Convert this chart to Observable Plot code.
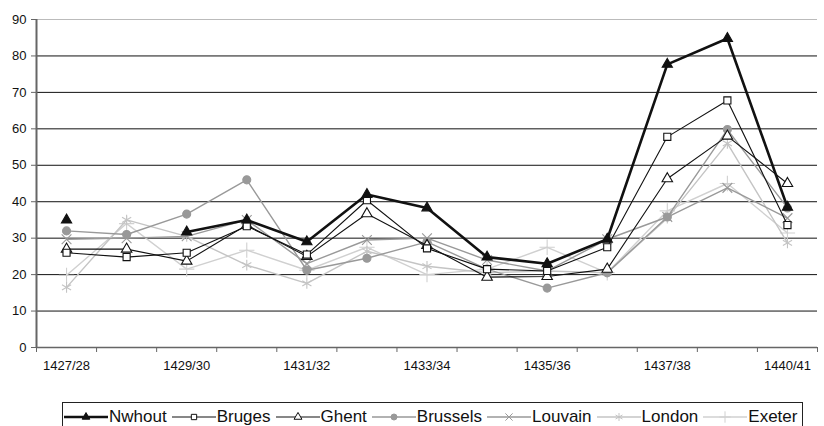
<!DOCTYPE html>
<html><head><meta charset="utf-8">
<script src="https://cdn.jsdelivr.net/npm/d3@7"></script>
<script src="https://cdn.jsdelivr.net/npm/@observablehq/plot@0.6"></script>
<style>
body{margin:0;background:#fff;font-family:Arial,"Liberation Sans",sans-serif;}
#chart{position:absolute;left:0;top:0;}
#legend{position:absolute;left:62px;top:402px;width:741px;height:30px;border:1px solid #222;display:flex;align-items:center;box-sizing:border-box;font-size:17px;color:#111;padding-left:1px;}
.item{display:flex;align-items:center;margin-right:5px;white-space:nowrap}
.item svg{display:block;margin-right:1px}
</style></head><body>
<div id="chart"></div><div id="legend"></div>
<script>
const categories = ["1427/28","1428/29","1429/30","1430/31","1431/32","1432/33","1433/34","1434/35","1435/36","1436/37","1437/38","1438/39","1440/41"];
const tickLabels = ["1427/28","1429/30","1431/32","1433/34","1435/36","1437/38","1440/41"];
const yTicks = [0,10,20,30,40,50,60,70,80,90];
const seriesNames = ["Nwhout","Bruges","Ghent","Brussels","Louvain","London","Exeter"];
const nwhout   = [35, null, 31.7, 35, 29, 42, 38.3, 24.8, 23, 29.7, 77.7, 84.8, 38.5];
const bruges   = [26, 24.8, 26, 33.3, 25.5, 40.4, 27.2, 21.5, 21, 27.5, 57.8, 67.8, 33.6];
const ghent    = [27, 27, 23.7, 33.6, 25, 36.7, 28, 19.3, 19.5, 21.5, 46.3, 58, 45];
const brussels = [32, 31, 36.6, 46, 21.2, 24.5, 29, 21.5, 16.3, 20.5, 35.8, 59.8, 38.3];
const louvain  = [29.7, 30, 30.5, 35, 23, 29.5, 30, 24, 21, 29.7, 35.8, 43.8, 35.5];
const london   = [16.5, 35, 30.5, 22.6, 17.6, 26.4, 22.3, 20.5, 21, 20.5, 35.5, 56, 28.7];
const exeter   = [19.8, 34, 21.5, 26.7, 21.2, 27.5, 20, 21.5, 27.5, 20.5, 37.5, 45, 31.4];

const values = [nwhout, bruges, ghent, brussels, louvain, london, exeter];
const styles = [
  {stroke:"#111", sw:2.6, symbol:"triangle", fill:"#111", mstroke:"#111", r:3.8},
  {stroke:"#111", sw:1.1, symbol:"square", fill:"#fff", mstroke:"#111", r:4.0},
  {stroke:"#111", sw:1.1, symbol:"triangle", fill:"#fff", mstroke:"#111", r:3.9},
  {stroke:"#999", sw:1.4, symbol:"circle", fill:"#999", mstroke:"#999", r:4.0},
  {stroke:"#999", sw:1.4, symbol:"times", fill:"none", mstroke:"#999", r:4.5},
  {stroke:"#c4c4c4", sw:1.4, symbol:"asterisk", fill:"none", mstroke:"#c4c4c4", r:5},
  {stroke:"#d0d0d0", sw:1.4, symbol:"plus", fill:"none", mstroke:"#d0d0d0", r:5}
];

const boundaries = d3.range(categories.length + 1).map(i => i - 0.5);
const labelIdx = tickLabels.map(t => categories.indexOf(t));

const seriesMarks = [];
for (let s = seriesNames.length - 1; s >= 0; s--) {
  const data = values[s].map((v, i) => ({i, v}));
  const st = styles[s];
  seriesMarks.push(Plot.line(data, {x:"i", y:"v", stroke:st.stroke, strokeWidth:st.sw}));
  seriesMarks.push(Plot.dot(data.filter(d => d.v != null), {x:"i", y:"v", symbol:st.symbol, r:st.r, fill:st.fill, stroke:st.mstroke, strokeWidth:1.1}));
}

const chart = Plot.plot({
  width: 824, height: 398,
  marginLeft: 36, marginRight: 7, marginTop: 19, marginBottom: 51,
  x: {type:"linear", domain:[-0.5, categories.length - 0.5]},
  y: {domain:[0, 90]},
  style: {fontFamily:"Arial, 'Liberation Sans', sans-serif", fontSize:"13px", color:"#111", background:"#fff"},
  marks: [
    Plot.ruleY(yTicks.filter(v => v > 0 && v < 90), {stroke:"#111", strokeWidth:1}),
    Plot.ruleY([90], {stroke:"#bbb", strokeWidth:1.2}),
    Plot.ruleY([0], {stroke:"#666", strokeWidth:1.5}),
    Plot.ruleX([-0.5], {stroke:"#666", strokeWidth:2}),
    Plot.axisY({ticks: yTicks, tickSize:5, tickPadding:5, stroke:"#666", fontSize:13, label:null}),
    Plot.axisX({ticks: boundaries, tickSize:5, tickFormat:() => "", stroke:"#666", label:null}),
    Plot.axisX({ticks: labelIdx, tickSize:0, tickPadding:13, tickFormat: i => categories[i], fontSize:13, label:null}),
    ...seriesMarks
  ]
});
document.getElementById("chart").appendChild(chart);

// legend
const legend = d3.select("#legend");
const symMap = {triangle:d3.symbolTriangle, square:d3.symbolSquare, circle:d3.symbolCircle, times:d3.symbolTimes, asterisk:d3.symbolAsterisk, plus:d3.symbolPlus};
seriesNames.forEach((name, s) => {
  const st = styles[s];
  const item = legend.append("div").attr("class","item");
  const svg = item.append("svg").attr("width", 44).attr("height", 18);
  svg.append("line").attr("x1",0).attr("x2",44).attr("y1",9).attr("y2",9).attr("stroke", st.stroke).attr("stroke-width", st.sw);
  const rr = st.r * 0.75;
  svg.append("path").attr("transform","translate(22,9)").attr("d", d3.symbol(symMap[st.symbol], Math.PI * rr * rr)())
    .attr("fill", st.fill).attr("stroke", st.mstroke).attr("stroke-width", 1);
  item.append("span").text(name);
});
</script></body></html>
